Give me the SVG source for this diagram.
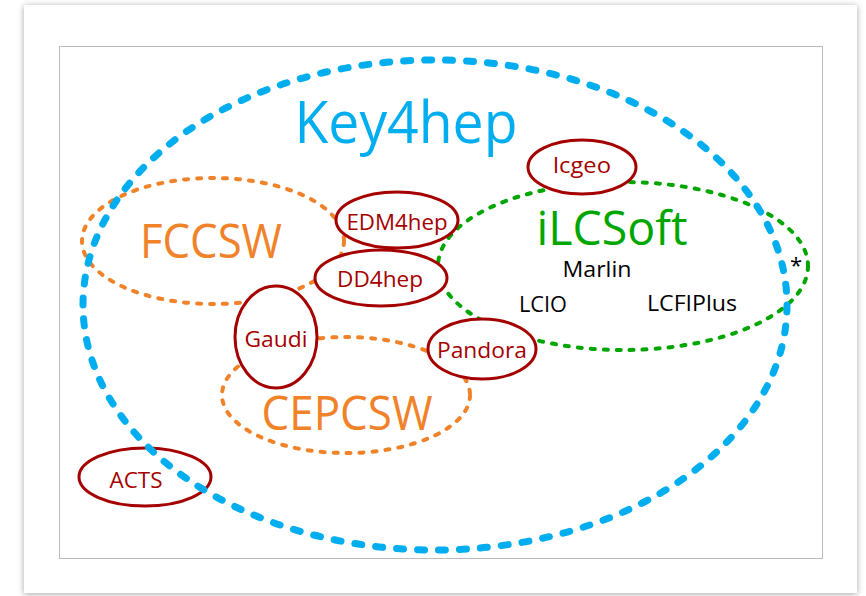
<svg xmlns="http://www.w3.org/2000/svg" width="866" height="596" viewBox="0 0 866 596">
  <defs>
    <filter id="shadow" x="-5%" y="-5%" width="110%" height="110%">
      <feDropShadow dx="0" dy="1" stdDeviation="3" flood-color="#000" flood-opacity="0.35"/>
    </filter>
    <style>
      .set { fill: none; stroke-width: 4; stroke-linecap: round; stroke-dasharray: 4 9; }
      .orange { stroke: #F0832A; }
      .green { stroke: #00A600; }
      .node ellipse { fill: #fff; stroke: #A50000; stroke-width: 3; }
      .node text { fill: #A50000; font-family: "Open Sans", "Noto Sans", sans-serif; font-size: 22px; text-anchor: middle; }
      .big { font-family: "Open Sans", "Noto Sans", sans-serif; font-size: 47px; text-anchor: middle; }
      .item { font-family: "Open Sans", "Noto Sans", sans-serif; font-size: 22px; fill: #000; text-anchor: middle; }
    </style>
  </defs>
  <rect x="0" y="0" width="866" height="596" fill="#fff"/>
  <rect x="24" y="5" width="833" height="588" fill="#fff" filter="url(#shadow)"/>
  <rect x="59.500" y="46.500" width="763" height="512" fill="#fff" stroke="#BBBBBB" stroke-width="1"/>

  <g id="FCCSW">
    <ellipse class="set orange" cx="213" cy="241" rx="131" ry="63"/>
    <text class="big" x="211" y="258" fill="#F0832A" textLength="142" lengthAdjust="spacingAndGlyphs">FCCSW</text>
  </g>
  <g id="CEPCSW">
    <ellipse class="set orange" cx="346" cy="395" rx="124" ry="58"/>
    <text class="big" x="347" y="430" fill="#F0832A" textLength="171" lengthAdjust="spacingAndGlyphs">CEPCSW</text>
  </g>
  <g id="iLCSoft">
    <ellipse class="set green" cx="623" cy="266" rx="185" ry="84"/>
    <text class="big" x="612" y="245" fill="#00A600" textLength="151" lengthAdjust="spacingAndGlyphs">iLCSoft</text>
    <text class="item" x="597" y="277" textLength="69" lengthAdjust="spacingAndGlyphs">Marlin</text>
    <text class="item" x="543" y="312" textLength="48" lengthAdjust="spacingAndGlyphs">LCIO</text>
    <text class="item" x="692" y="311" textLength="90" lengthAdjust="spacingAndGlyphs">LCFIPlus</text>
    <text class="item" x="796" y="273" font-size="24">*</text>
  </g>

  <g id="EDM4hep" class="node">
    <ellipse cx="397" cy="220" rx="61" ry="28"/>
    <text x="397" y="230" textLength="101" lengthAdjust="spacingAndGlyphs">EDM4hep</text>
  </g>
  <g id="DD4hep" class="node">
    <ellipse cx="381" cy="278" rx="66" ry="28"/>
    <text x="380" y="287" textLength="86" lengthAdjust="spacingAndGlyphs">DD4hep</text>
  </g>
  <g id="Gaudi" class="node">
    <ellipse cx="276" cy="337" rx="41" ry="51"/>
    <text x="276" y="347" textLength="63" lengthAdjust="spacingAndGlyphs">Gaudi</text>
  </g>
  <g id="Pandora" class="node">
    <ellipse cx="482" cy="349" rx="54" ry="30"/>
    <text x="482" y="358" textLength="90" lengthAdjust="spacingAndGlyphs">Pandora</text>
  </g>
  <g id="lcgeo" class="node">
    <ellipse cx="582" cy="167" rx="54" ry="27"/>
    <text x="582" y="173" textLength="58" lengthAdjust="spacingAndGlyphs">lcgeo</text>
  </g>
  <g id="ACTS" class="node">
    <ellipse cx="145" cy="477" rx="66" ry="29"/>
    <text x="136" y="488" textLength="53" lengthAdjust="spacingAndGlyphs">ACTS</text>
  </g>

  <g id="Key4hep">
    <ellipse cx="435" cy="305" rx="352" ry="245" fill="none" stroke="#00AEEF" stroke-width="7" stroke-linecap="round" stroke-dasharray="7 14"/>
    <text x="406" y="143" font-family="'Open Sans', 'Noto Sans', sans-serif" font-size="59" fill="#00AEEF" text-anchor="middle" textLength="223" lengthAdjust="spacingAndGlyphs">Key4hep</text>
  </g>
</svg>
